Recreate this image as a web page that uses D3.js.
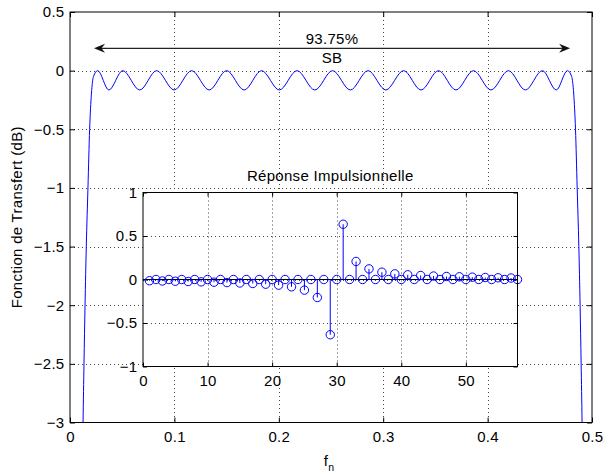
<!DOCTYPE html>
<html>
<head>
<meta charset="utf-8">
<script src="https://cdn.jsdelivr.net/npm/d3@7"></script>
<style>
  html, body { margin: 0; padding: 0; background: #fff; }
  svg { display: block; }
  text { font-family: "Liberation Sans", Arial, Helvetica, sans-serif; fill: #000; letter-spacing: 0.3px; }
</style>
</head>
<body>
<svg id="chart" width="603" height="472"></svg>
<script>
// ---------- Data ----------
// Main transfer function (dB) vs normalised frequency f_n
const freqN = [
  0.0118, 0.0125, 0.0134, 0.0144, 0.0156, 0.0172, 0.0188, 0.0205, 0.0225, 0.0265,
  0.0372, 0.0505, 0.0668, 0.0830, 0.0998, 0.1165, 0.1333, 0.1500, 0.1668, 0.1835,
  0.2005, 0.2175, 0.2345, 0.2515, 0.2685, 0.2855, 0.3025, 0.3195, 0.3362, 0.3530,
  0.3697, 0.3865, 0.4032, 0.4200, 0.4362, 0.4525, 0.4658, 0.4765, 0.4805, 0.4825,
  0.4842, 0.4858, 0.4874, 0.4886, 0.4896, 0.4905, 0.4912
];
const gainDb = [
  -3.5, -3.0, -2.5, -2.0, -1.5, -1.0, -0.5, -0.2, -0.05, 0,
  -0.165, 0, -0.165, 0, -0.165, 0, -0.165, 0, -0.165, 0,
  -0.165, 0, -0.165, 0, -0.165, 0, -0.165, 0, -0.165, 0,
  -0.165, 0, -0.165, 0, -0.165, 0, -0.165, 0, -0.05, -0.2,
  -0.5, -1.0, -1.5, -2.0, -2.5, -3.0, -3.5
];

// Impulse response (taps 1..58)
const tapIndex = d3.range(1, 59);
const tapValue = [
  -0.014, 0, -0.017, 0, -0.020, 0, -0.023, 0, -0.027, 0,
  -0.031, 0, -0.035, 0, -0.040, 0, -0.046, 0, -0.054, 0,
  -0.065, 0, -0.084, 0, -0.122, 0, -0.207, 0, -0.635, 0,
   0.635, 0,  0.207, 0,  0.122, 0,  0.084, 0,  0.065, 0,
   0.054, 0,  0.046, 0,  0.040, 0,  0.035, 0,  0.031, 0,
   0.027, 0,  0.023, 0,  0.020, 0,  0.017, 0
];

// Ticks
const mainXTicks = [0, 0.1, 0.2, 0.3, 0.4, 0.5];
const mainYTicks = [0.5, 0, -0.5, -1, -1.5, -2, -2.5, -3];
const insetXTicks = [0, 10, 20, 30, 40, 50];
const insetYTicks = [1, 0.5, 0, -0.5, -1];

// Annotation (band arrow) in data units
const arrowFn = [0.023, 0.479];
const arrowDb = [0.19];
const arrowLabels = ["93.75%", "SB"];

// Text
const yLabel = "Fonction de Transfert (dB)";
const insetTitle = "Réponse Impulsionnelle";

// ---------- Drawing ----------
const svg = d3.select("#chart");
const FS = 15;
svg.append("rect").attr("width", 603).attr("height", 472).attr("fill", "#fff");

const x = d3.scaleLinear().domain([0, 0.5]).range([70, 592]);
const y = d3.scaleLinear().domain([-3, 0.5]).range([422.5, 12]);

const gridStyle = g => g.attr("stroke", "#444").attr("stroke-width", 1)
  .attr("stroke-dasharray", "1,3").attr("fill", "none");

// main grid
const mg = svg.append("g").call(gridStyle);
mainXTicks.filter(t => t > 0 && t < 0.5).forEach(t => {
  mg.append("line").attr("x1", Math.round(x(t)) + 0.5).attr("x2", Math.round(x(t)) + 0.5)
    .attr("y1", y(0.5)).attr("y2", y(-3));
});
mainYTicks.filter(t => t < 0.5 && t > -3).forEach(t => {
  mg.append("line").attr("y1", Math.round(y(t)) + 0.5).attr("y2", Math.round(y(t)) + 0.5)
    .attr("x1", x(0)).attr("x2", x(0.5));
});

// clip
svg.append("clipPath").attr("id", "mainClip").append("rect")
  .attr("x", x(0)).attr("y", y(0.5)).attr("width", x(0.5) - x(0)).attr("height", y(-3) - y(0.5));

const line = d3.line().x(d => x(d[0])).y(d => y(d[1])).curve(d3.curveMonotoneX);
svg.append("path").attr("clip-path", "url(#mainClip)")
  .attr("d", line(freqN.map((f, i) => [f, gainDb[i]])))
  .attr("fill", "none").attr("stroke", "#0000ff").attr("stroke-width", 1);

// main axes
function styleAxis(g) {
  g.attr("font-family", null).attr("font-size", null);
  g.select(".domain").remove();
  g.selectAll(".tick line").attr("stroke", "#000");
  g.selectAll(".tick text").attr("font-size", FS).attr("fill", "#000");
}
svg.append("g").attr("transform", `translate(0,${y(-3)})`)
  .call(d3.axisBottom(x).tickValues(mainXTicks).tickSize(-5).tickPadding(8.5).tickFormat(d3.format("")))
  .call(styleAxis);
svg.append("g").attr("transform", `translate(0,${y(0.5)})`)
  .call(d3.axisTop(x).tickValues(mainXTicks).tickSize(-5).tickFormat(""))
  .call(styleAxis);
svg.append("g").attr("transform", `translate(${x(0)},0)`)
  .call(d3.axisLeft(y).tickValues(mainYTicks).tickSize(-5).tickPadding(5.5).tickFormat(d3.format("")))
  .call(styleAxis);
svg.append("g").attr("transform", `translate(${x(0.5)},0)`)
  .call(d3.axisRight(y).tickValues(mainYTicks).tickSize(-5).tickFormat(""))
  .call(styleAxis);
svg.append("rect").attr("x", x(0)).attr("y", y(0.5))
  .attr("width", x(0.5) - x(0)).attr("height", y(-3) - y(0.5))
  .attr("fill", "none").attr("stroke", "#000").attr("stroke-width", 1);

// axis labels
svg.append("text").attr("transform", `translate(22,${(y(0.5) + y(-3)) / 2}) rotate(-90)`)
  .attr("text-anchor", "middle").attr("font-size", FS).text(yLabel);
const xl = svg.append("text").attr("x", (x(0) + x(0.5)) / 2 - 2).attr("y", 466)
  .attr("text-anchor", "middle").attr("font-size", FS);
xl.append("tspan").text("f");
xl.append("tspan").attr("dy", 5).attr("font-size", 10.5).text("n");

// band arrow
const ay = y(arrowDb[0]);
const ax0 = x(arrowFn[0]), ax1 = x(arrowFn[1]);
svg.append("line").attr("x1", ax0 + 6).attr("x2", ax1 - 6).attr("y1", ay).attr("y2", ay)
  .attr("stroke", "#222").attr("stroke-width", 1.2);
const headL = 11, headW = 4.5, notch = 7.5;
svg.append("path").attr("d",
  `M${ax0},${ay} L${ax0 + headL},${ay - headW} L${ax0 + notch},${ay} L${ax0 + headL},${ay + headW} Z`)
  .attr("fill", "#111");
svg.append("path").attr("d",
  `M${ax1},${ay} L${ax1 - headL},${ay - headW} L${ax1 - notch},${ay} L${ax1 - headL},${ay + headW} Z`)
  .attr("fill", "#111");
svg.append("text").attr("x", (ax0 + ax1) / 2).attr("y", ay - 4.5).attr("text-anchor", "middle")
  .attr("font-size", FS).text(arrowLabels[0]);
svg.append("text").attr("x", (ax0 + ax1) / 2).attr("y", ay + 15).attr("text-anchor", "middle")
  .attr("font-size", FS).text(arrowLabels[1]);

// ---------- Inset ----------
const xi = d3.scaleLinear().domain([0, 58]).range([143, 517.5]);
const yi = d3.scaleLinear().domain([-1, 1]).range([366.5, 192.5]);

svg.append("rect").attr("x", xi(0)).attr("y", yi(1))
  .attr("width", xi(58) - xi(0)).attr("height", yi(-1) - yi(1)).attr("fill", "#fff");

const ig = svg.append("g").call(gridStyle);
insetXTicks.filter(t => t > 0).forEach(t => {
  ig.append("line").attr("x1", Math.round(xi(t)) + 0.5).attr("x2", Math.round(xi(t)) + 0.5)
    .attr("y1", yi(1)).attr("y2", yi(-1));
});
insetYTicks.filter(t => t < 1 && t > -1).forEach(t => {
  ig.append("line").attr("y1", Math.round(yi(t)) + 0.5).attr("y2", Math.round(yi(t)) + 0.5)
    .attr("x1", xi(0)).attr("x2", xi(58));
});

svg.append("g").attr("transform", `translate(0,${yi(-1)})`)
  .call(d3.axisBottom(xi).tickValues(insetXTicks).tickSize(-4).tickPadding(9.3).tickFormat(d3.format("")))
  .call(styleAxis);
svg.append("g").attr("transform", `translate(0,${yi(1)})`)
  .call(d3.axisTop(xi).tickValues(insetXTicks).tickSize(-4).tickFormat(""))
  .call(styleAxis);
svg.append("g").attr("transform", `translate(${xi(0)},0)`)
  .call(d3.axisLeft(yi).tickValues(insetYTicks).tickSize(-4).tickPadding(5.5).tickFormat(d3.format("")))
  .call(styleAxis);
svg.append("g").attr("transform", `translate(${xi(58)},0)`)
  .call(d3.axisRight(yi).tickValues(insetYTicks).tickSize(-4).tickFormat(""))
  .call(styleAxis);

// baseline
svg.append("line").attr("x1", xi(0)).attr("x2", xi(58)).attr("y1", yi(0)).attr("y2", yi(0))
  .attr("stroke", "#000").attr("stroke-width", 1);

// stems
svg.append("g").selectAll("line").data(tapIndex).join("line")
  .attr("x1", d => xi(d)).attr("x2", d => xi(d))
  .attr("y1", yi(0)).attr("y2", (d, i) => yi(tapValue[i]))
  .attr("stroke", "#0000ff").attr("stroke-width", 1);
svg.append("g").selectAll("circle").data(tapIndex).join("circle")
  .attr("cx", d => xi(d)).attr("cy", (d, i) => yi(tapValue[i])).attr("r", 4.2)
  .attr("fill", "none").attr("stroke", "#0000ff").attr("stroke-width", 1);

svg.append("rect").attr("x", xi(0)).attr("y", yi(1))
  .attr("width", xi(58) - xi(0)).attr("height", yi(-1) - yi(1))
  .attr("fill", "none").attr("stroke", "#000").attr("stroke-width", 1);

svg.append("text").attr("x", (xi(0) + xi(58)) / 2).attr("y", 181)
  .attr("text-anchor", "middle").attr("font-size", FS).text(insetTitle);
</script>
</body>
</html>
